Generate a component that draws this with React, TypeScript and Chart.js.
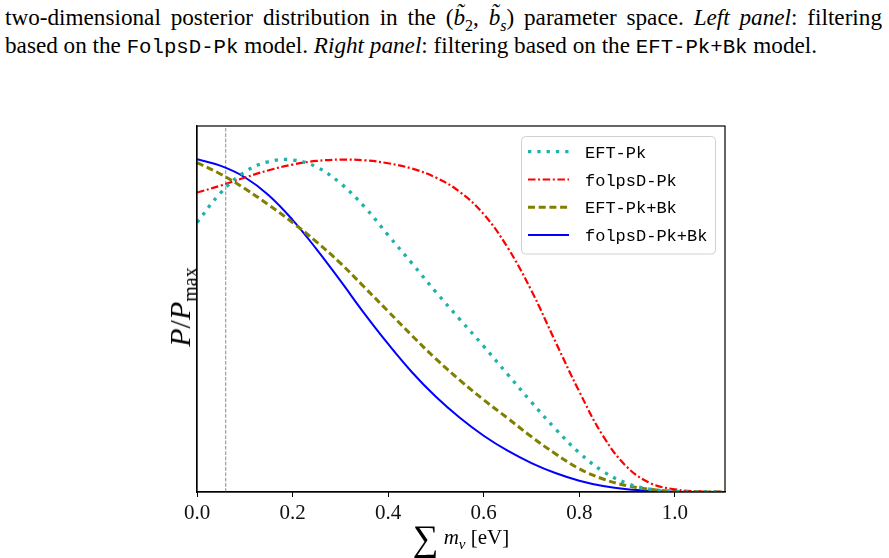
import React, { useEffect, useRef } from "react";
import { Chart, registerables } from "chart.js";

Chart.register(...registerables);

// ---- data ----
const massGrid = [0, 0.05, 0.1, 0.15, 0.2, 0.25, 0.3, 0.35, 0.4, 0.45, 0.5, 0.55, 0.6, 0.65, 0.7, 0.75, 0.8, 0.85, 0.9, 0.95, 1.0, 1.05, 1.1];
const eftPk = [0.81, 0.9, 0.962, 0.993, 0.998, 0.977, 0.928, 0.858, 0.772, 0.687, 0.601, 0.519, 0.438, 0.354, 0.27, 0.19, 0.118, 0.062, 0.026, 0.008, 0.002, 0.0, 0.0];
const folpsPk = [0.9, 0.921, 0.945, 0.967, 0.984, 0.995, 0.999, 0.997, 0.988, 0.972, 0.945, 0.902, 0.835, 0.735, 0.605, 0.452, 0.302, 0.168, 0.075, 0.026, 0.008, 0.002, 0.0];
const eftPkBk = [0.99, 0.955, 0.912, 0.863, 0.81, 0.752, 0.688, 0.616, 0.543, 0.47, 0.4, 0.336, 0.277, 0.222, 0.166, 0.115, 0.07, 0.039, 0.019, 0.008, 0.002, 0.0005, 0.0];
const folpsPkBk = [1.0, 0.98, 0.946, 0.892, 0.818, 0.73, 0.635, 0.537, 0.445, 0.36, 0.286, 0.223, 0.169, 0.124, 0.087, 0.057, 0.034, 0.018, 0.008, 0.003, 0.001, 0.0, 0.0];
const seriesLabels = ["EFT-Pk", "folpsD-Pk", "EFT-Pk+Bk", "folpsD-Pk+Bk"];
const xTicks = [0, 0.2, 0.4, 0.6, 0.8, 1.0];
const refMass = 0.06;
const xRange = [0, 1.105];
const yRange = [0, 1.1];

const toPoints = (ys: number[]) => ys.map((y, i) => ({ x: massGrid[i], y }));

const SERIF = "'Liberation Serif', 'DejaVu Serif', serif";
const MONO = "'Liberation Mono', 'DejaVu Sans Mono', monospace";

const framePlugin = {
  id: "frameAndLegend",
  afterDraw(chart: any) {
    const { ctx, chartArea } = chart;
    const { left, top, right, bottom } = chartArea;
    ctx.save();
    ctx.strokeStyle = "#000";
    ctx.lineWidth = 1.2;
    ctx.setLineDash([]);
    ctx.strokeRect(left, top, right - left, bottom - top);

    // legend
    const bx = right - 203.5;
    const by = top + 10.5;
    const bw = 194;
    const bh = 117.5;
    const r = 4;
    ctx.beginPath();
    ctx.moveTo(bx + r, by);
    ctx.lineTo(bx + bw - r, by);
    ctx.arcTo(bx + bw, by, bx + bw, by + r, r);
    ctx.lineTo(bx + bw, by + bh - r);
    ctx.arcTo(bx + bw, by + bh, bx + bw - r, by + bh, r);
    ctx.lineTo(bx + r, by + bh);
    ctx.arcTo(bx, by + bh, bx, by + bh - r, r);
    ctx.lineTo(bx, by + r);
    ctx.arcTo(bx, by, bx + r, by, r);
    ctx.closePath();
    ctx.fillStyle = "rgba(255,255,255,0.85)";
    ctx.fill();
    ctx.strokeStyle = "#d0d0d0";
    ctx.lineWidth = 1;
    ctx.stroke();

    const ds = chart.data.datasets.filter((d: any) => d.showInLegend);
    ds.forEach((d: any, i: number) => {
      const y = top + 25.7 + i * 27.8;
      ctx.beginPath();
      ctx.strokeStyle = d.borderColor;
      ctx.lineWidth = d.borderWidth;
      ctx.setLineDash(d.borderDash || []);
      ctx.lineCap = "butt";
      ctx.moveTo(right - 197, y);
      ctx.lineTo(right - 156, y);
      ctx.stroke();
      ctx.setLineDash([]);
      ctx.fillStyle = "#000";
      ctx.font = `17px ${MONO}`;
      ctx.textBaseline = "middle";
      ctx.textAlign = "left";
      ctx.fillText(d.label, right - 140, y + 1.5);
    });
    ctx.restore();
  },
};

export default function App() {
  const canvasRef = useRef<HTMLCanvasElement | null>(null);

  useEffect(() => {
    if (!canvasRef.current) return;
    const chart = new Chart(canvasRef.current, {
      type: "line",
      data: {
        datasets: [
          {
            label: seriesLabels[0],
            data: toPoints(eftPk),
            borderColor: "#20B2AA",
            borderWidth: 3.3,
            borderDash: [3.3, 6],
            showInLegend: true,
          } as any,
          {
            label: seriesLabels[1],
            data: toPoints(folpsPk),
            borderColor: "#FF0000",
            borderWidth: 2.2,
            borderDash: [7.5, 2.6, 2, 2.6],
            showInLegend: true,
          } as any,
          {
            label: seriesLabels[2],
            data: toPoints(eftPkBk),
            borderColor: "#808000",
            borderWidth: 3,
            borderDash: [7, 3.7],
            showInLegend: true,
          } as any,
          {
            label: seriesLabels[3],
            data: toPoints(folpsPkBk),
            borderColor: "#0000FF",
            borderWidth: 2,
            showInLegend: true,
          } as any,
          {
            label: "ref",
            data: [
              { x: refMass, y: yRange[0] },
              { x: refMass, y: yRange[1] },
            ],
            borderColor: "rgba(128,128,128,0.75)",
            borderWidth: 1.2,
            borderDash: [3.7, 1.6],
            tension: 0,
            showInLegend: false,
          } as any,
        ],
      },
      options: {
        animation: false,
        responsive: false,
        devicePixelRatio: 1,
        layout: { padding: { top: 126, right: 164, left: 0, bottom: 0 } },
        elements: {
          point: { radius: 0, hoverRadius: 0 },
          line: { tension: 0.4, fill: false, borderCapStyle: "butt" },
        },
        plugins: { legend: { display: false }, tooltip: { enabled: false } },
        events: [],
        scales: {
          x: {
            type: "linear",
            min: xRange[0],
            max: xRange[1],
            afterFit: (s: any) => {
              s.height = 66;
            },
            afterBuildTicks: (s: any) => {
              s.ticks = xTicks.map((v) => ({ value: v }));
            },
            ticks: {
              padding: 4,
              color: "#111",
              font: { family: SERIF, size: 21 },
              callback: (v: any) => Number(v).toFixed(1),
              maxRotation: 0,
              autoSkip: false,
            },
            grid: {
              drawOnChartArea: false,
              drawTicks: true,
              tickLength: 5,
              color: "#000",
              lineWidth: 1,
            },
            border: { display: true, color: "#000", width: 1.2 },
          },
          y: {
            type: "linear",
            min: yRange[0],
            max: yRange[1],
            afterFit: (s: any) => {
              s.width = 197;
            },
            ticks: { display: false },
            grid: { display: false, drawTicks: false },
            border: { display: true, color: "#000", width: 1.2 },
          },
        },
      },
      plugins: [framePlugin],
    } as any);
    return () => chart.destroy();
  }, []);

  const mono: React.CSSProperties = { fontFamily: MONO, fontSize: 20.7 };
  const lineStyle: React.CSSProperties = {
    position: "absolute",
    left: 5,
    whiteSpace: "nowrap",
    fontFamily: SERIF,
    fontSize: 23.2,
    lineHeight: "28px",
    color: "#000",
  };

  return (
    <div
      style={{
        position: "absolute",
        left: 0,
        top: 0,
        width: 889,
        height: 558,
        background: "#fff",
        overflow: "hidden",
      }}
    >
      <div style={{ ...lineStyle, top: 3, width: 877, textAlign: "justify", textAlignLast: "justify" as any }}>
        two-dimensional posterior distribution in the (<i>b̃</i>
        <sub style={{ fontSize: 16, lineHeight: 0 }}>2</sub>, <i>b̃</i>
        <sub style={{ fontSize: 16, lineHeight: 0 }}>
          <i>s</i>
        </sub>
        ) parameter space. <i>Left panel</i>: filtering
      </div>
      <div style={{ ...lineStyle, top: 31 }}>
        based on the <span style={mono}>FolpsD-Pk</span> model. <i>Right panel</i>: filtering based on the{" "}
        <span style={mono}>EFT-Pk+Bk</span> model.
      </div>
      <canvas ref={canvasRef} width={889} height={558} style={{ position: "absolute", left: 0, top: 0 }} />
      <div
        style={{
          position: "absolute",
          left: 180,
          top: 307,
          transform: "translate(-50%, -50%) rotate(-90deg)",
          fontFamily: SERIF,
          fontSize: 30,
          whiteSpace: "nowrap",
          lineHeight: 1,
        }}
      >
        <i>P</i>/<i>P</i>
        <sub style={{ fontSize: 20, lineHeight: 0 }}>max</sub>
      </div>
      <div
        style={{
          position: "absolute",
          left: 461,
          top: 538,
          transform: "translate(-50%, -50%)",
          fontFamily: SERIF,
          fontSize: 21,
          whiteSpace: "nowrap",
          lineHeight: 1,
        }}
      >
        <span style={{ fontSize: 36, verticalAlign: "-6px" }}>∑</span> <i>m</i>
        <sub style={{ fontSize: 15, lineHeight: 0 }}>
          <i>ν</i>
        </sub>{" "}
        [eV]
      </div>
    </div>
  );
}
